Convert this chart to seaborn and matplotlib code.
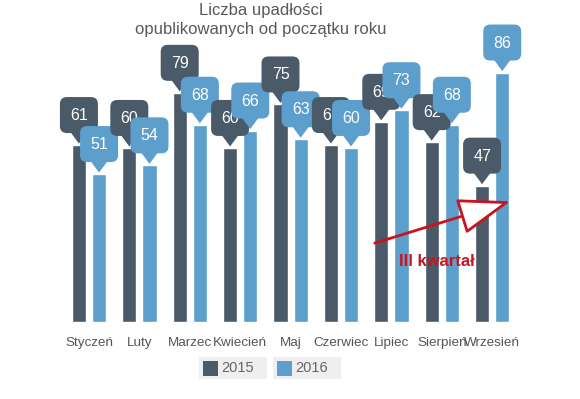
import numpy as np
import pandas as pd
import matplotlib
matplotlib.use('Agg')
import matplotlib.pyplot as plt
import matplotlib.transforms as mtransforms
from matplotlib.patches import FancyBboxPatch, Polygon, Rectangle
import seaborn as sns

# Dane
miesiace = ['Styczeń', 'Luty', 'Marzec', 'Kwiecień', 'Maj', 'Czerwiec',
            'Lipiec', 'Sierpień', 'Wrzesień']
upadlosci_2015 = [61, 60, 79, 60, 75, 61, 69, 62, 47]
upadlosci_2016 = [51, 54, 68, 66, 63, 60, 73, 68, 86]
lata = ['2015', '2016']
kolory = ['#4b5a69', '#5c9fcc']

df = pd.DataFrame({
    'miesiac': miesiace * 2,
    'liczba': upadlosci_2015 + upadlosci_2016,
    'rok': [lata[0]] * len(miesiace) + [lata[1]] * len(miesiace),
})

sns.set_style('white')
plt.rcParams['font.family'] = ['Liberation Sans', 'DejaVu Sans']

fig = plt.figure(figsize=(5.8, 3.99), dpi=100)
ax = fig.add_axes([0.110, 0.193, 0.782, 0.727])
sns.barplot(data=df, x='miesiac', y='liczba', hue='rok', palette=kolory,
            width=0.8, gap=0.3, saturation=1, ax=ax)
ax.set_ylim(0, 100)
ax.set_xlim(-0.5, 8.5)
sns.despine(ax=ax, left=True, bottom=True)
ax.set_yticks([])
ax.set_xlabel('')
ax.set_ylabel('')
ax.tick_params(axis='x', length=0, pad=11, labelsize=9.7, labelcolor='#555555')
ax.get_legend().remove()


def dymek(x, v, kolor, z):
    """Zaokraglony dymek z wartoscia nad slupkiem (wymiary w calach)"""
    trans = fig.dpi_scale_trans + mtransforms.ScaledTranslation(x, v, ax.transData)
    box = FancyBboxPatch((-0.19, 0.12), 0.38, 0.36,
                         boxstyle='round,pad=0,rounding_size=0.07',
                         fc=kolor, ec='none', transform=trans, zorder=z, clip_on=False)
    tri = Polygon([(-0.085, 0.13), (0.085, 0.13), (0, 0.015)], closed=True,
                  fc=kolor, ec='none', transform=trans, zorder=z, clip_on=False)
    ax.add_patch(box)
    ax.add_patch(tri)
    ax.text(0, 0.295, f'{v:.0f}', transform=trans, ha='center', va='center',
            color='white', fontsize=11.5, zorder=z + 0.5, clip_on=False)


z = 3
for b15, b16 in zip(ax.containers[0], ax.containers[1]):
    dymek(b15.get_x() + b15.get_width() / 2, b15.get_height(), kolory[0], z)
    dymek(b16.get_x() + b16.get_width() / 2, b16.get_height(), kolory[1], z + 1)
    z += 2

# Strzalka "III kwartal"
czerwony = '#c8141e'
ax.annotate('', xy=(8.36, 41.6), xytext=(5.67, 27.2),
            arrowprops=dict(arrowstyle='-|>,head_length=3.3,head_width=1.15',
                            fc='white', ec=czerwony, lw=2, shrinkA=0, shrinkB=0,
                            mutation_scale=10),
            zorder=2.5, annotation_clip=False)
ax.text(6.9, 20.9, 'III kwartał', ha='center', va='center', color=czerwony,
        fontsize=12, fontweight='bold', zorder=2.6)

# Tytul
fig.text(0.449, 1 - 3 / 399, 'Liczba upadłości\nopublikowanych od początku roku',
         ha='center', va='top', fontsize=12, color='#595959', linespacing=1.3)

# Legenda z szarym tlem pod kazdym wpisem
W, H = 580, 399
for lx, rok, kol in zip([199, 273], lata, kolory):
    fig.patches.append(Rectangle((lx / W, (H - 379) / H), 68 / W, 22 / H,
                                 transform=fig.transFigure, fc='#efefef', ec='none'))
    fig.patches.append(Rectangle(((lx + 4) / W, (H - 376) / H), 15 / W, 15 / H,
                                 transform=fig.transFigure, fc=kol, ec='none'))
    fig.text((lx + 22) / W, (H - 368) / H, rok, ha='left', va='center',
             fontsize=10.5, color='#666666')

fig.savefig('out.png', dpi=100)
